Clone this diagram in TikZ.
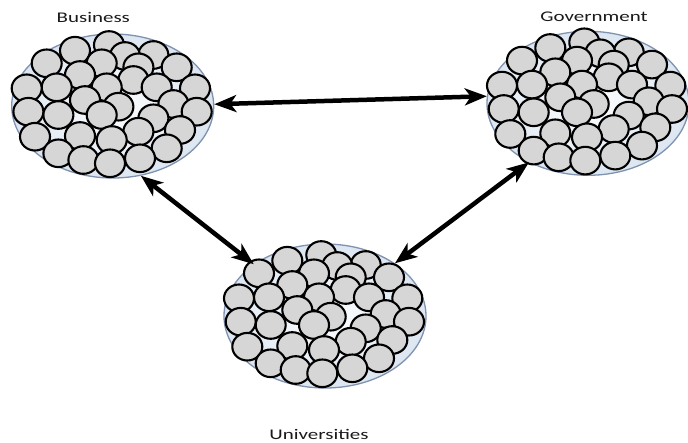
\documentclass[tikz,border=0pt]{standalone}
\usepackage{fontspec}
\setmainfont{Carlito}
\newfontfamily\lblfont[FakeStretch=1.42]{Carlito}
\usetikzlibrary{shapes.geometric,arrows.meta}
\definecolor{clfill}{HTML}{DCE6F1}
\definecolor{cledge}{HTML}{7F92B0}
\definecolor{ballfill}{HTML}{D6D6D6}
\definecolor{txt}{HTML}{1A1A1A}
\tikzset{
  cluster/.style={ellipse, draw=cledge, inner color=white, outer color=clfill, line width=1.3pt,
    minimum width=202pt, minimum height=144pt, inner sep=0pt},
  ball/.style={draw=black, fill=ballfill, line width=2.1pt},
  lbl/.style={anchor=base, inner sep=0pt, text=txt, font=\lblfont\fontsize{14.75}{17}\selectfont},
  link/.style={line width=4.5pt, black,
    {Stealth[length=22pt,width=17pt,inset=6pt]}-{Stealth[length=22pt,width=17pt,inset=6pt]}},
  pics/balls/.style={code={
    \foreach \bx/\by in {-3.7/-61, -37.7/-55.3, 40.7/-51, 12.3/-50, -11/-42.7,
      -66/-42.7, 25.7/-38.7, 64/-38.7, -32.7/-31, 20.7/-26, -56/-18.7,
      -6/-18.7, 44/-18.7, -86/-17.7, 82.3/-17.7, -27.7/-6, 60.7/-2,
      5.7/0.7, -84.3/5.7, 84/5.7, -54.3/9, -11/9, 40.7/12.3, 67.3/24,
      25.7/25.7, -32.7/30, -77.7/30.7, -1/34, 54/42.3, -54.3/47.3,
      27.3/52.3, -29.3/54, -2.7/57.3}
      \draw[ball] (\bx,\by) ellipse [x radius=15pt, y radius=13.8pt];
  }}
}
\begin{document}
\begin{tikzpicture}[x=1pt,y=-1pt]
\useasboundingbox (0,0) rectangle (688,442);
\fill[white] (0,0) rectangle (688,442);

\node[cluster] (bus) at (112.7,106) {};
\pic at (bus.center) {balls};
\node[cluster] (gov) at (588,103.3) {};
\pic at (gov.center) {balls};
\node[cluster] (uni) at (325,316) {};
\pic at (uni.center) {balls};

\node[lbl] (tbus) at (93.3,22.3) {Business};
\node[lbl] (tgov) at (594,21.3) {Government};
\node[lbl] (tuni) at (319,439) {Universities};

\draw[link] (bus.1) -- (gov.176);
\draw[link] (bus.-68) -- (uni.144);
\draw[link] (gov.-135) -- (uni.37);
\end{tikzpicture}
\end{document}
